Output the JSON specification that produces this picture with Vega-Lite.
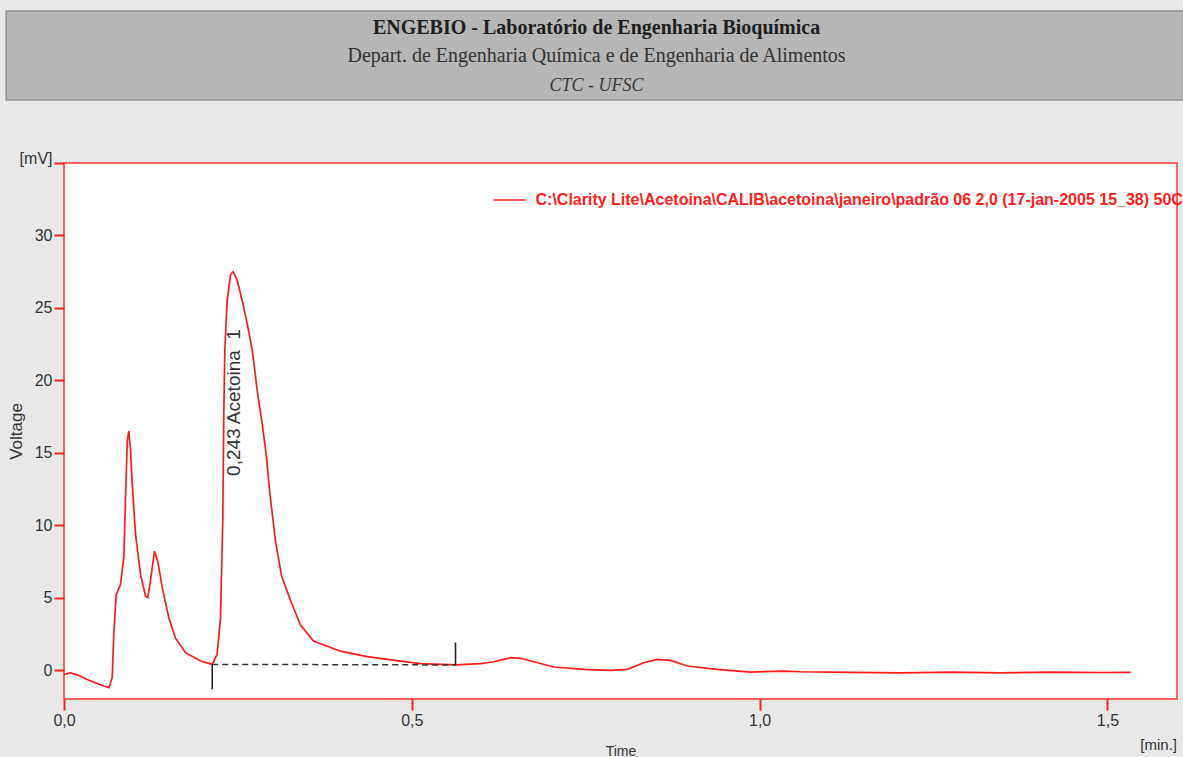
{
  "$schema": "https://vega.github.io/schema/vega-lite/v6.json",
  "background": "#e8e8e8",
  "padding": {"left": 5, "top": 10, "right": 0, "bottom": 0},
  "spacing": 48,
  "resolve": {"scale": {"color": "independent"}, "legend": {"color": "independent"}},
  "config": {
    "font": "Liberation Sans",
    "axis": {"labelFont": "Liberation Sans", "titleFont": "Liberation Sans"}
  },
  "datasets": {
    "header": [
      {"line": 1, "text": "ENGEBIO - Laboratório de Engenharia Bioquímica"},
      {"line": 2, "text": "Depart. de Engenharia Química e de Engenharia de Alimentos"},
      {"line": 3, "text": "CTC - UFSC"}
    ],
    "band": [
      {"name": "header band"}
    ],
    "signal": [
      {"series": "C:\\Clarity Lite\\Acetoina\\CALIB\\acetoina\\janeiro\\padrão 06 2,0 (17-jan-2005 15_38) 50C", "t": 0.0, "v": -0.3},
      {"series": "C:\\Clarity Lite\\Acetoina\\CALIB\\acetoina\\janeiro\\padrão 06 2,0 (17-jan-2005 15_38) 50C", "t": 0.0093, "v": -0.19},
      {"series": "C:\\Clarity Lite\\Acetoina\\CALIB\\acetoina\\janeiro\\padrão 06 2,0 (17-jan-2005 15_38) 50C", "t": 0.02, "v": -0.35},
      {"series": "C:\\Clarity Lite\\Acetoina\\CALIB\\acetoina\\janeiro\\padrão 06 2,0 (17-jan-2005 15_38) 50C", "t": 0.0334, "v": -0.65},
      {"series": "C:\\Clarity Lite\\Acetoina\\CALIB\\acetoina\\janeiro\\padrão 06 2,0 (17-jan-2005 15_38) 50C", "t": 0.045, "v": -0.88},
      {"series": "C:\\Clarity Lite\\Acetoina\\CALIB\\acetoina\\janeiro\\padrão 06 2,0 (17-jan-2005 15_38) 50C", "t": 0.0572, "v": -1.1},
      {"series": "C:\\Clarity Lite\\Acetoina\\CALIB\\acetoina\\janeiro\\padrão 06 2,0 (17-jan-2005 15_38) 50C", "t": 0.0644, "v": -1.22},
      {"series": "C:\\Clarity Lite\\Acetoina\\CALIB\\acetoina\\janeiro\\padrão 06 2,0 (17-jan-2005 15_38) 50C", "t": 0.0693, "v": -0.53},
      {"series": "C:\\Clarity Lite\\Acetoina\\CALIB\\acetoina\\janeiro\\padrão 06 2,0 (17-jan-2005 15_38) 50C", "t": 0.0716, "v": 2.5},
      {"series": "C:\\Clarity Lite\\Acetoina\\CALIB\\acetoina\\janeiro\\padrão 06 2,0 (17-jan-2005 15_38) 50C", "t": 0.075, "v": 5.2},
      {"series": "C:\\Clarity Lite\\Acetoina\\CALIB\\acetoina\\janeiro\\padrão 06 2,0 (17-jan-2005 15_38) 50C", "t": 0.0812, "v": 5.9},
      {"series": "C:\\Clarity Lite\\Acetoina\\CALIB\\acetoina\\janeiro\\padrão 06 2,0 (17-jan-2005 15_38) 50C", "t": 0.086, "v": 7.8},
      {"series": "C:\\Clarity Lite\\Acetoina\\CALIB\\acetoina\\janeiro\\padrão 06 2,0 (17-jan-2005 15_38) 50C", "t": 0.0884, "v": 11.7},
      {"series": "C:\\Clarity Lite\\Acetoina\\CALIB\\acetoina\\janeiro\\padrão 06 2,0 (17-jan-2005 15_38) 50C", "t": 0.0909, "v": 15.8},
      {"series": "C:\\Clarity Lite\\Acetoina\\CALIB\\acetoina\\janeiro\\padrão 06 2,0 (17-jan-2005 15_38) 50C", "t": 0.0932, "v": 16.5},
      {"series": "C:\\Clarity Lite\\Acetoina\\CALIB\\acetoina\\janeiro\\padrão 06 2,0 (17-jan-2005 15_38) 50C", "t": 0.0956, "v": 15.2},
      {"series": "C:\\Clarity Lite\\Acetoina\\CALIB\\acetoina\\janeiro\\padrão 06 2,0 (17-jan-2005 15_38) 50C", "t": 0.098, "v": 12.9},
      {"series": "C:\\Clarity Lite\\Acetoina\\CALIB\\acetoina\\janeiro\\padrão 06 2,0 (17-jan-2005 15_38) 50C", "t": 0.1028, "v": 9.4},
      {"series": "C:\\Clarity Lite\\Acetoina\\CALIB\\acetoina\\janeiro\\padrão 06 2,0 (17-jan-2005 15_38) 50C", "t": 0.11, "v": 6.6},
      {"series": "C:\\Clarity Lite\\Acetoina\\CALIB\\acetoina\\janeiro\\padrão 06 2,0 (17-jan-2005 15_38) 50C", "t": 0.1172, "v": 5.1},
      {"series": "C:\\Clarity Lite\\Acetoina\\CALIB\\acetoina\\janeiro\\padrão 06 2,0 (17-jan-2005 15_38) 50C", "t": 0.1205, "v": 5.0},
      {"series": "C:\\Clarity Lite\\Acetoina\\CALIB\\acetoina\\janeiro\\padrão 06 2,0 (17-jan-2005 15_38) 50C", "t": 0.1244, "v": 6.2},
      {"series": "C:\\Clarity Lite\\Acetoina\\CALIB\\acetoina\\janeiro\\padrão 06 2,0 (17-jan-2005 15_38) 50C", "t": 0.1301, "v": 8.2},
      {"series": "C:\\Clarity Lite\\Acetoina\\CALIB\\acetoina\\janeiro\\padrão 06 2,0 (17-jan-2005 15_38) 50C", "t": 0.1348, "v": 7.5},
      {"series": "C:\\Clarity Lite\\Acetoina\\CALIB\\acetoina\\janeiro\\padrão 06 2,0 (17-jan-2005 15_38) 50C", "t": 0.1412, "v": 5.7},
      {"series": "C:\\Clarity Lite\\Acetoina\\CALIB\\acetoina\\janeiro\\padrão 06 2,0 (17-jan-2005 15_38) 50C", "t": 0.1507, "v": 3.6},
      {"series": "C:\\Clarity Lite\\Acetoina\\CALIB\\acetoina\\janeiro\\padrão 06 2,0 (17-jan-2005 15_38) 50C", "t": 0.1603, "v": 2.2},
      {"series": "C:\\Clarity Lite\\Acetoina\\CALIB\\acetoina\\janeiro\\padrão 06 2,0 (17-jan-2005 15_38) 50C", "t": 0.1747, "v": 1.2},
      {"series": "C:\\Clarity Lite\\Acetoina\\CALIB\\acetoina\\janeiro\\padrão 06 2,0 (17-jan-2005 15_38) 50C", "t": 0.1962, "v": 0.62},
      {"series": "C:\\Clarity Lite\\Acetoina\\CALIB\\acetoina\\janeiro\\padrão 06 2,0 (17-jan-2005 15_38) 50C", "t": 0.2131, "v": 0.39},
      {"series": "C:\\Clarity Lite\\Acetoina\\CALIB\\acetoina\\janeiro\\padrão 06 2,0 (17-jan-2005 15_38) 50C", "t": 0.2202, "v": 1.1},
      {"series": "C:\\Clarity Lite\\Acetoina\\CALIB\\acetoina\\janeiro\\padrão 06 2,0 (17-jan-2005 15_38) 50C", "t": 0.225, "v": 3.6},
      {"series": "C:\\Clarity Lite\\Acetoina\\CALIB\\acetoina\\janeiro\\padrão 06 2,0 (17-jan-2005 15_38) 50C", "t": 0.2283, "v": 10.5},
      {"series": "C:\\Clarity Lite\\Acetoina\\CALIB\\acetoina\\janeiro\\padrão 06 2,0 (17-jan-2005 15_38) 50C", "t": 0.2297, "v": 17.5},
      {"series": "C:\\Clarity Lite\\Acetoina\\CALIB\\acetoina\\janeiro\\padrão 06 2,0 (17-jan-2005 15_38) 50C", "t": 0.2312, "v": 22.1},
      {"series": "C:\\Clarity Lite\\Acetoina\\CALIB\\acetoina\\janeiro\\padrão 06 2,0 (17-jan-2005 15_38) 50C", "t": 0.2346, "v": 25.5},
      {"series": "C:\\Clarity Lite\\Acetoina\\CALIB\\acetoina\\janeiro\\padrão 06 2,0 (17-jan-2005 15_38) 50C", "t": 0.2394, "v": 27.3},
      {"series": "C:\\Clarity Lite\\Acetoina\\CALIB\\acetoina\\janeiro\\padrão 06 2,0 (17-jan-2005 15_38) 50C", "t": 0.2432, "v": 27.5},
      {"series": "C:\\Clarity Lite\\Acetoina\\CALIB\\acetoina\\janeiro\\padrão 06 2,0 (17-jan-2005 15_38) 50C", "t": 0.249, "v": 26.9},
      {"series": "C:\\Clarity Lite\\Acetoina\\CALIB\\acetoina\\janeiro\\padrão 06 2,0 (17-jan-2005 15_38) 50C", "t": 0.2562, "v": 25.5},
      {"series": "C:\\Clarity Lite\\Acetoina\\CALIB\\acetoina\\janeiro\\padrão 06 2,0 (17-jan-2005 15_38) 50C", "t": 0.2634, "v": 23.9},
      {"series": "C:\\Clarity Lite\\Acetoina\\CALIB\\acetoina\\janeiro\\padrão 06 2,0 (17-jan-2005 15_38) 50C", "t": 0.2706, "v": 22.1},
      {"series": "C:\\Clarity Lite\\Acetoina\\CALIB\\acetoina\\janeiro\\padrão 06 2,0 (17-jan-2005 15_38) 50C", "t": 0.2777, "v": 19.3},
      {"series": "C:\\Clarity Lite\\Acetoina\\CALIB\\acetoina\\janeiro\\padrão 06 2,0 (17-jan-2005 15_38) 50C", "t": 0.2849, "v": 17.0},
      {"series": "C:\\Clarity Lite\\Acetoina\\CALIB\\acetoina\\janeiro\\padrão 06 2,0 (17-jan-2005 15_38) 50C", "t": 0.2911, "v": 14.7},
      {"series": "C:\\Clarity Lite\\Acetoina\\CALIB\\acetoina\\janeiro\\padrão 06 2,0 (17-jan-2005 15_38) 50C", "t": 0.2959, "v": 12.2},
      {"series": "C:\\Clarity Lite\\Acetoina\\CALIB\\acetoina\\janeiro\\padrão 06 2,0 (17-jan-2005 15_38) 50C", "t": 0.3041, "v": 8.9},
      {"series": "C:\\Clarity Lite\\Acetoina\\CALIB\\acetoina\\janeiro\\padrão 06 2,0 (17-jan-2005 15_38) 50C", "t": 0.3127, "v": 6.5},
      {"series": "C:\\Clarity Lite\\Acetoina\\CALIB\\acetoina\\janeiro\\padrão 06 2,0 (17-jan-2005 15_38) 50C", "t": 0.3256, "v": 4.8},
      {"series": "C:\\Clarity Lite\\Acetoina\\CALIB\\acetoina\\janeiro\\padrão 06 2,0 (17-jan-2005 15_38) 50C", "t": 0.34, "v": 3.1},
      {"series": "C:\\Clarity Lite\\Acetoina\\CALIB\\acetoina\\janeiro\\padrão 06 2,0 (17-jan-2005 15_38) 50C", "t": 0.3587, "v": 2.0},
      {"series": "C:\\Clarity Lite\\Acetoina\\CALIB\\acetoina\\janeiro\\padrão 06 2,0 (17-jan-2005 15_38) 50C", "t": 0.3975, "v": 1.3},
      {"series": "C:\\Clarity Lite\\Acetoina\\CALIB\\acetoina\\janeiro\\padrão 06 2,0 (17-jan-2005 15_38) 50C", "t": 0.4359, "v": 0.92},
      {"series": "C:\\Clarity Lite\\Acetoina\\CALIB\\acetoina\\janeiro\\padrão 06 2,0 (17-jan-2005 15_38) 50C", "t": 0.4838, "v": 0.62},
      {"series": "C:\\Clarity Lite\\Acetoina\\CALIB\\acetoina\\janeiro\\padrão 06 2,0 (17-jan-2005 15_38) 50C", "t": 0.5125, "v": 0.44},
      {"series": "C:\\Clarity Lite\\Acetoina\\CALIB\\acetoina\\janeiro\\padrão 06 2,0 (17-jan-2005 15_38) 50C", "t": 0.5628, "v": 0.35},
      {"series": "C:\\Clarity Lite\\Acetoina\\CALIB\\acetoina\\janeiro\\padrão 06 2,0 (17-jan-2005 15_38) 50C", "t": 0.5988, "v": 0.44},
      {"series": "C:\\Clarity Lite\\Acetoina\\CALIB\\acetoina\\janeiro\\padrão 06 2,0 (17-jan-2005 15_38) 50C", "t": 0.6179, "v": 0.57},
      {"series": "C:\\Clarity Lite\\Acetoina\\CALIB\\acetoina\\janeiro\\padrão 06 2,0 (17-jan-2005 15_38) 50C", "t": 0.6419, "v": 0.85},
      {"series": "C:\\Clarity Lite\\Acetoina\\CALIB\\acetoina\\janeiro\\padrão 06 2,0 (17-jan-2005 15_38) 50C", "t": 0.6563, "v": 0.81},
      {"series": "C:\\Clarity Lite\\Acetoina\\CALIB\\acetoina\\janeiro\\padrão 06 2,0 (17-jan-2005 15_38) 50C", "t": 0.6754, "v": 0.57},
      {"series": "C:\\Clarity Lite\\Acetoina\\CALIB\\acetoina\\janeiro\\padrão 06 2,0 (17-jan-2005 15_38) 50C", "t": 0.7041, "v": 0.21},
      {"series": "C:\\Clarity Lite\\Acetoina\\CALIB\\acetoina\\janeiro\\padrão 06 2,0 (17-jan-2005 15_38) 50C", "t": 0.7473, "v": 0.05},
      {"series": "C:\\Clarity Lite\\Acetoina\\CALIB\\acetoina\\janeiro\\padrão 06 2,0 (17-jan-2005 15_38) 50C", "t": 0.7857, "v": -0.02},
      {"series": "C:\\Clarity Lite\\Acetoina\\CALIB\\acetoina\\janeiro\\padrão 06 2,0 (17-jan-2005 15_38) 50C", "t": 0.8097, "v": 0.05},
      {"series": "C:\\Clarity Lite\\Acetoina\\CALIB\\acetoina\\janeiro\\padrão 06 2,0 (17-jan-2005 15_38) 50C", "t": 0.8335, "v": 0.5},
      {"series": "C:\\Clarity Lite\\Acetoina\\CALIB\\acetoina\\janeiro\\padrão 06 2,0 (17-jan-2005 15_38) 50C", "t": 0.8528, "v": 0.74},
      {"series": "C:\\Clarity Lite\\Acetoina\\CALIB\\acetoina\\janeiro\\padrão 06 2,0 (17-jan-2005 15_38) 50C", "t": 0.8719, "v": 0.67},
      {"series": "C:\\Clarity Lite\\Acetoina\\CALIB\\acetoina\\janeiro\\padrão 06 2,0 (17-jan-2005 15_38) 50C", "t": 0.8959, "v": 0.28},
      {"series": "C:\\Clarity Lite\\Acetoina\\CALIB\\acetoina\\janeiro\\padrão 06 2,0 (17-jan-2005 15_38) 50C", "t": 0.939, "v": 0.05},
      {"series": "C:\\Clarity Lite\\Acetoina\\CALIB\\acetoina\\janeiro\\padrão 06 2,0 (17-jan-2005 15_38) 50C", "t": 0.9869, "v": -0.14},
      {"series": "C:\\Clarity Lite\\Acetoina\\CALIB\\acetoina\\janeiro\\padrão 06 2,0 (17-jan-2005 15_38) 50C", "t": 1.0348, "v": -0.07},
      {"series": "C:\\Clarity Lite\\Acetoina\\CALIB\\acetoina\\janeiro\\padrão 06 2,0 (17-jan-2005 15_38) 50C", "t": 1.0588, "v": -0.12},
      {"series": "C:\\Clarity Lite\\Acetoina\\CALIB\\acetoina\\janeiro\\padrão 06 2,0 (17-jan-2005 15_38) 50C", "t": 1.1307, "v": -0.16},
      {"series": "C:\\Clarity Lite\\Acetoina\\CALIB\\acetoina\\janeiro\\padrão 06 2,0 (17-jan-2005 15_38) 50C", "t": 1.2026, "v": -0.2},
      {"series": "C:\\Clarity Lite\\Acetoina\\CALIB\\acetoina\\janeiro\\padrão 06 2,0 (17-jan-2005 15_38) 50C", "t": 1.2745, "v": -0.15},
      {"series": "C:\\Clarity Lite\\Acetoina\\CALIB\\acetoina\\janeiro\\padrão 06 2,0 (17-jan-2005 15_38) 50C", "t": 1.3463, "v": -0.19},
      {"series": "C:\\Clarity Lite\\Acetoina\\CALIB\\acetoina\\janeiro\\padrão 06 2,0 (17-jan-2005 15_38) 50C", "t": 1.4182, "v": -0.14},
      {"series": "C:\\Clarity Lite\\Acetoina\\CALIB\\acetoina\\janeiro\\padrão 06 2,0 (17-jan-2005 15_38) 50C", "t": 1.4901, "v": -0.17},
      {"series": "C:\\Clarity Lite\\Acetoina\\CALIB\\acetoina\\janeiro\\padrão 06 2,0 (17-jan-2005 15_38) 50C", "t": 1.5333, "v": -0.16}
    ],
    "baseline": [
      {"t0": 0.2131, "v0": 0.39, "t1": 0.5628, "v1": 0.35}
    ],
    "markers": [
      {"t": 0.2131, "v0": 0.39, "v1": -1.33},
      {"t": 0.5628, "v0": 0.35, "v1": 1.9}
    ],
    "peaks": [
      {"t": 0.2451, "v": 13.4, "label": "0,243 Acetoina\u00a0\u00a01"}
    ],
    "units": [
      {"t": 1.6, "v": -2, "label": "[min.]"}
    ]
  },
  "vconcat": [
    {
      "width": 1119.5,
      "height": 89,
      "view": {"stroke": null},
      "layer": [
        {
          "data": {"name": "band"},
          "mark": {"type": "rect", "fill": "#b6b6b6", "stroke": "#939393", "strokeWidth": 1.5, "clip": false},
          "encoding": {
            "x": {"datum": -0.0516, "type": "quantitative", "scale": {"domain": [0, 1], "nice": false, "zero": false}, "axis": null},
            "x2": {"datum": 1.0},
            "y": {"datum": 0.193, "type": "quantitative", "scale": {"domain": [0.193, 3.316], "reverse": true, "nice": false, "zero": false}, "axis": null},
            "y2": {"datum": 3.316}
          }
        },
        {
          "data": {"name": "header"},
          "encoding": {
            "x": {"datum": 0.4757, "type": "quantitative"},
            "y": {"field": "line", "type": "quantitative"},
            "text": {"field": "text", "type": "nominal"}
          },
          "layer": [
            {"transform": [{"filter": "datum.line == 1"}], "mark": {"type": "text", "font": "Liberation Serif", "fontSize": 20, "fontWeight": "bold", "baseline": "alphabetic", "color": "#1e1e1e"}},
            {"transform": [{"filter": "datum.line == 2"}], "mark": {"type": "text", "font": "Liberation Serif", "fontSize": 20, "baseline": "alphabetic", "color": "#333333"}},
            {"transform": [{"filter": "datum.line == 3"}], "mark": {"type": "text", "font": "Liberation Serif", "fontSize": 18, "fontStyle": "italic", "baseline": "alphabetic", "color": "#3a3a3a"}}
          ]
        }
      ]
    },
    {
      "width": 1113,
      "height": 536,
      "view": {"fill": "white", "stroke": "#ff3535", "strokeWidth": 1.5},
      "layer": [
        {
          "data": {"name": "signal"},
          "mark": {"type": "line", "strokeWidth": 1.7, "clip": true},
          "encoding": {
            "x": {
              "field": "t", "type": "quantitative", "title": "Time",
              "scale": {"domain": [0, 1.6], "nice": false, "zero": false},
              "axis": {
                "values": [0, 0.5, 1, 1.5],
                "labelExpr": "replace(format(datum.value, '.1f'), '.', ',')",
                "domain": false, "grid": false,
                "tickColor": "#ff2020", "tickWidth": 2, "tickSize": 11,
                "labelPadding": 2, "labelFontSize": 16, "labelColor": "#333333",
                "labelFlush": false, "labelOverlap": false,
                "titleFontSize": 14, "titleFontWeight": "normal",
                "titleColor": "#333333", "titlePadding": 16
              }
            },
            "y": {
              "field": "v", "type": "quantitative", "title": "Voltage",
              "scale": {"domain": [-2, 35], "nice": false, "zero": false},
              "axis": {
                "values": [0, 5, 10, 15, 20, 25, 30, 35],
                "labelExpr": "datum.value == 35 ? '[mV]' : datum.label",
                "labelBaseline": {"condition": {"test": "datum.value == 35", "value": "alphabetic"}, "value": "middle"},
                "domain": false, "grid": false,
                "tickColor": "#ff2020", "tickWidth": 2, "tickSize": 10,
                "labelPadding": 2, "labelFontSize": 16, "labelColor": "#333333",
                "labelFlush": false, "labelOverlap": false,
                "minExtent": 38, "maxExtent": 38,
                "titleFontSize": 17, "titleFontWeight": "normal",
                "titleColor": "#333333", "titlePadding": 1
              }
            },
            "color": {
              "field": "series", "type": "nominal",
              "scale": {"range": ["#ff1a1a"]},
              "legend": {
                "orient": "none", "legendX": 428.5, "legendY": 20, "title": null, "padding": 0,
                "symbolType": "stroke", "symbolSize": 1024, "symbolStrokeWidth": 1.5,
                "labelFont": "Liberation Sans", "labelFontWeight": "bold", "labelFontSize": 16,
                "labelColor": "#ff2020", "labelLimit": 900, "labelOffset": 9
              }
            }
          }
        },
        {
          "data": {"name": "baseline"},
          "mark": {"type": "rule", "strokeDash": [6, 4], "color": "#333333", "strokeWidth": 1.5},
          "encoding": {
            "x": {"field": "t0", "type": "quantitative", "title": "Time"},
            "x2": {"field": "t1"},
            "y": {"field": "v0", "type": "quantitative", "title": "Voltage"},
            "y2": {"field": "v1"}
          }
        },
        {
          "data": {"name": "markers"},
          "mark": {"type": "rule", "color": "#222222", "strokeWidth": 1.6},
          "encoding": {
            "x": {"field": "t", "type": "quantitative", "title": "Time"},
            "y": {"field": "v0", "type": "quantitative", "title": "Voltage"},
            "y2": {"field": "v1"}
          }
        },
        {
          "data": {"name": "peaks"},
          "mark": {"type": "text", "angle": 270, "align": "left", "baseline": "middle", "fontSize": 19, "color": "#333333"},
          "encoding": {
            "x": {"field": "t", "type": "quantitative", "title": "Time"},
            "y": {"field": "v", "type": "quantitative", "title": "Voltage"},
            "text": {"field": "label", "type": "nominal"}
          }
        },
        {
          "data": {"name": "units"},
          "mark": {"type": "text", "align": "right", "baseline": "middle", "dy": 46, "fontSize": 15, "color": "#333333"},
          "encoding": {
            "x": {"field": "t", "type": "quantitative", "title": "Time"},
            "y": {"field": "v", "type": "quantitative", "title": "Voltage"},
            "text": {"field": "label", "type": "nominal"}
          }
        }
      ]
    }
  ]
}
